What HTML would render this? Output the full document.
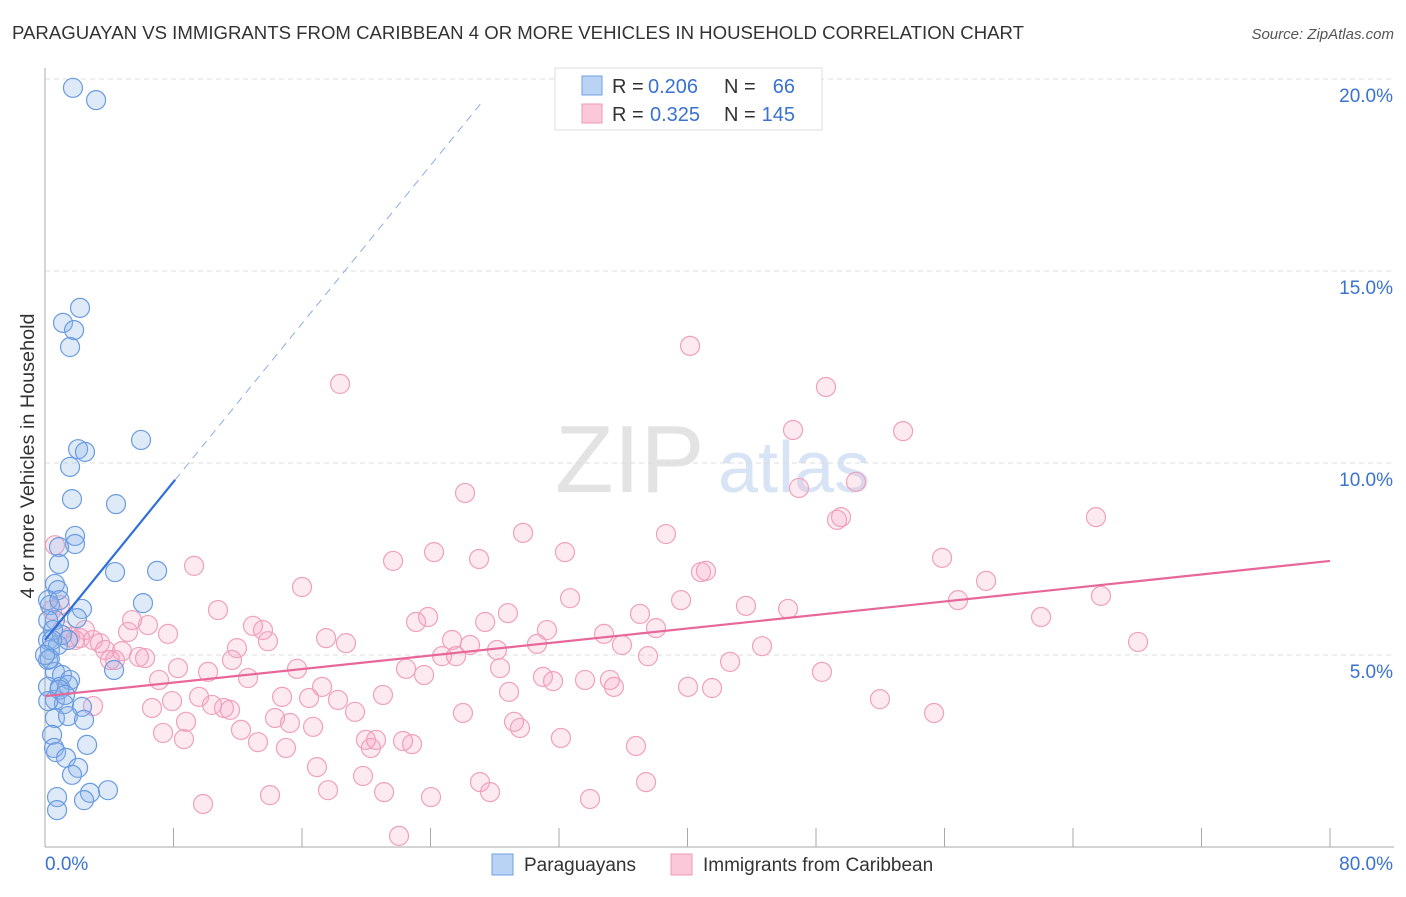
<!DOCTYPE html>
<html><head><meta charset="utf-8"><style>
body{margin:0;background:#fff;font-family:"Liberation Sans",sans-serif}
svg text{font-family:"Liberation Sans",sans-serif}
</style></head><body>
<svg id="chart" width="1406" height="892" xmlns="http://www.w3.org/2000/svg">
<text x="12" y="39" font-size="18" fill="#333" textLength="1012" lengthAdjust="spacingAndGlyphs">PARAGUAYAN VS IMMIGRANTS FROM CARIBBEAN 4 OR MORE VEHICLES IN HOUSEHOLD CORRELATION CHART</text>
<text x="1394" y="39" font-size="15" fill="#555" text-anchor="end" font-style="italic">Source: ZipAtlas.com</text>
<text x="555" y="492" font-size="96" fill="#e3e3e3" font-family="Liberation Serif">ZIP</text>
<text x="718" y="492" font-size="72" fill="#d6e4f5">atlas</text>
<text transform="translate(34,456) rotate(-90)" font-size="19" fill="#333" text-anchor="middle" textLength="285" lengthAdjust="spacingAndGlyphs">4 or more Vehicles in Household</text>
<g id="grid"></g><g id="marks"></g><g id="lines"></g>
<g>
<rect x="555" y="68" width="267" height="62" fill="#fff" stroke="#ddd"/>
<rect x="582" y="76" width="20" height="19" fill="#b9d3f5" stroke="#6f9fe0"/>
<rect x="582" y="104" width="20" height="19" fill="#fac8d8" stroke="#f09ab8"/>
<text x="612" y="93" font-size="20" fill="#333">R =</text>
<text x="648" y="93" font-size="20" fill="#3a72d0">0.206</text>
<text x="724" y="93" font-size="20" fill="#333">N =</text>
<text x="795" y="93" font-size="20" fill="#3a72d0" text-anchor="end">66</text>
<text x="612" y="121" font-size="20" fill="#333">R =</text>
<text x="650" y="121" font-size="20" fill="#3a72d0">0.325</text>
<text x="724" y="121" font-size="20" fill="#333">N =</text>
<text x="795" y="121" font-size="20" fill="#3a72d0" text-anchor="end">145</text>
</g>
<g>
<rect x="492" y="854" width="21" height="21" fill="#b9d3f5" stroke="#6f9fe0"/>
<text x="524" y="871" font-size="19" fill="#333">Paraguayans</text>
<rect x="671" y="854" width="21" height="21" fill="#fac8d8" stroke="#f09ab8"/>
<text x="703" y="871" font-size="19" fill="#333">Immigrants from Caribbean</text>
</g>
</svg>
<script>
const yTicks=[5,10,15,20];
const yTickLabels=["5.0%","10.0%","15.0%","20.0%"];
const xTickLabels=["0.0%","80.0%"];
const blueX=[1.74,3.18,1.12,1.81,2.18,1.56,5.98,2.06,2.49,1.56,1.68,4.42,1.87,1.87,0.87,0.87,4.36,6.98,0.62,0.81,0.19,0.31,2.30,6.10,0.62,1.99,0.19,0.31,0.81,1.06,1.43,0.19,4.30,0.62,1.06,1.56,0.19,0.93,1.43,0.62,1.18,2.30,0.62,1.43,2.43,0.44,0.56,0.69,2.62,1.31,2.06,1.68,3.92,2.80,0.75,2.43,0.75,0.3,0.2,0.2,0.5,0.9,0,0.9,0.44,1.25];
const blueY=[19.77,19.45,13.65,13.46,14.04,13.02,10.60,10.36,10.29,9.90,9.06,8.93,8.10,7.89,7.81,7.37,7.16,7.19,6.85,6.69,6.43,6.30,6.20,6.35,5.91,5.96,5.39,5.13,5.26,5.52,5.39,4.87,4.61,4.56,4.48,4.35,4.17,4.17,4.22,3.83,3.72,3.65,3.36,3.41,3.31,2.92,2.58,2.47,2.66,2.32,2.06,1.88,1.48,1.41,1.30,1.22,0.96,4.9,5.9,3.8,5.65,4.1,5.0,6.43,5.39,3.96];
const pinkX=[40.16,18.37,48.62,46.57,53.42,26.15,46.94,49.56,49.31,65.43,50.49,29.76,38.66,32.37,24.22,27.02,21.67,9.28,40.84,41.15,55.85,58.59,16.00,65.74,32.69,39.60,10.77,28.82,37.04,43.64,46.26,56.84,62.01,23.85,23.10,27.40,5.42,6.41,12.95,13.57,7.66,5.17,17.50,18.74,31.25,34.80,38.04,68.05,11.95,13.88,25.34,26.46,30.63,35.92,44.64,28.14,24.72,25.59,37.54,4.05,4.79,5.85,6.23,8.28,11.64,10.15,15.69,22.48,28.33,23.60,42.65,48.37,7.10,12.64,31.00,31.63,33.62,35.17,35.42,17.25,40.03,41.53,9.59,14.76,28.89,21.04,7.91,16.44,18.24,10.40,6.66,11.14,11.52,19.30,51.98,55.35,26.02,14.32,8.78,15.25,12.20,16.69,29.20,29.57,7.35,8.65,13.26,19.98,20.61,22.29,22.85,15.00,32.12,36.79,20.29,16.93,19.80,27.08,37.42,27.71,17.62,21.11,14.01,24.03,33.93,9.84,22.04,2.99,4.36,2.99,3.42,0.93,1.56,2.18,0.62,1.06,2.49,0.44,1.87,3.74];
const pinkY=[13.05,12.06,11.98,10.86,10.83,9.22,9.35,8.59,8.52,8.59,9.51,8.18,8.15,7.68,7.68,7.50,7.45,7.32,7.16,7.19,7.53,6.93,6.77,6.54,6.48,6.43,6.17,6.09,6.07,6.28,6.20,6.43,5.99,5.99,5.86,5.86,5.91,5.78,5.76,5.65,5.55,5.60,5.44,5.31,5.65,5.55,5.70,5.34,5.18,5.36,5.39,5.26,5.29,5.26,5.23,5.13,4.97,4.97,4.97,4.87,5.10,4.95,4.92,4.66,4.87,4.56,4.64,4.64,4.66,4.48,4.82,4.56,4.35,4.40,4.43,4.32,4.35,4.35,4.17,4.17,4.17,4.14,3.91,3.91,4.04,3.96,3.80,3.88,3.83,3.70,3.62,3.62,3.57,3.52,3.85,3.49,3.49,3.36,3.26,3.23,3.05,3.13,3.26,3.10,2.97,2.81,2.73,2.79,2.79,2.76,2.68,2.58,2.84,2.63,2.58,2.08,1.85,1.69,1.69,1.43,1.48,1.43,1.35,1.30,1.25,1.12,0.29,3.67,4.87,5.39,5.31,6.30,5.47,5.44,7.86,5.65,5.65,6.17,5.39,5.13];
const blueTrend=[5.39,0.515];  // intercept, slope
const blueSolidEnd=8.1, blueDashEnd=27.1;
const pinkTrend=[3.93,0.044];

const NS="http://www.w3.org/2000/svg";
const X0=45,X1=1330,Y0=847,PPY=38.4;
const sx=v=>X0+v/80*(X1-X0);
const sy=v=>Y0-v*PPY;
function mk(tag,attrs,parent){const e=document.createElementNS(NS,tag);for(const k in attrs)e.setAttribute(k,attrs[k]);document.getElementById(parent).appendChild(e);return e;}

yTicks.forEach((t,i)=>{
  const l=mk('line',{x1:X0,x2:1394,y1:sy(t),y2:sy(t),stroke:'#ddd','stroke-dasharray':'5,4'},'grid');
  
  
  const tx=mk('text',{x:1393,y:sy(t)+23,'font-size':19,fill:'#3a72d0','text-anchor':'end'},'grid');
  tx.textContent=yTickLabels[i];
  
  
});
const ax=mk('line',{x1:X0,x2:X0,y1:68,y2:Y0,stroke:'#aaa'},'grid');


const bx=mk('line',{x1:X0,x2:1394,y1:Y0,y2:Y0,stroke:'#aaa'},'grid');


for(let i=0;i<=10;i++){
  const t=mk('line',{x1:sx(i*8),x2:sx(i*8),y1:828,y2:Y0,stroke:'#aaa'},'grid');
  
  
}
[[0,'start',45],[80,'end',1393]].forEach((d,i)=>{
  const tx=mk('text',{x:d[2],y:870,'font-size':19,fill:'#3a72d0','text-anchor':d[1]},'grid');
  tx.textContent=xTickLabels[i];
  
  
});

pinkX.forEach((x,i)=>{
  const c=mk('circle',{cx:sx(x),cy:sy(pinkY[i]),r:9.5,fill:'rgba(244,160,190,0.22)',stroke:'#f0a0bc','stroke-width':1.2},'marks');
  
  
});
blueX.forEach((x,i)=>{
  const c=mk('circle',{cx:sx(x),cy:sy(blueY[i]),r:9.5,fill:'rgba(140,180,235,0.28)',stroke:'#6a9be0','stroke-width':1.2},'marks');
  
  
});
const bf=x=>blueTrend[0]+blueTrend[1]*x;
const b1=mk('line',{x1:sx(0),y1:sy(bf(0)),x2:sx(blueSolidEnd),y2:sy(bf(blueSolidEnd)),stroke:'#2f6fd6','stroke-width':2.2},'lines');


const b2=mk('line',{x1:sx(blueSolidEnd),y1:sy(bf(blueSolidEnd)),x2:sx(blueDashEnd),y2:sy(bf(blueDashEnd)),stroke:'#8aaee2','stroke-width':1,'stroke-dasharray':'8,6'},'lines');


const pf=x=>pinkTrend[0]+pinkTrend[1]*x;
const p1=mk('line',{x1:sx(0),y1:sy(pf(0)),x2:sx(80),y2:sy(pf(80)),stroke:'#e8679a','stroke-width':2.2},'lines');


</script>
</body></html>
